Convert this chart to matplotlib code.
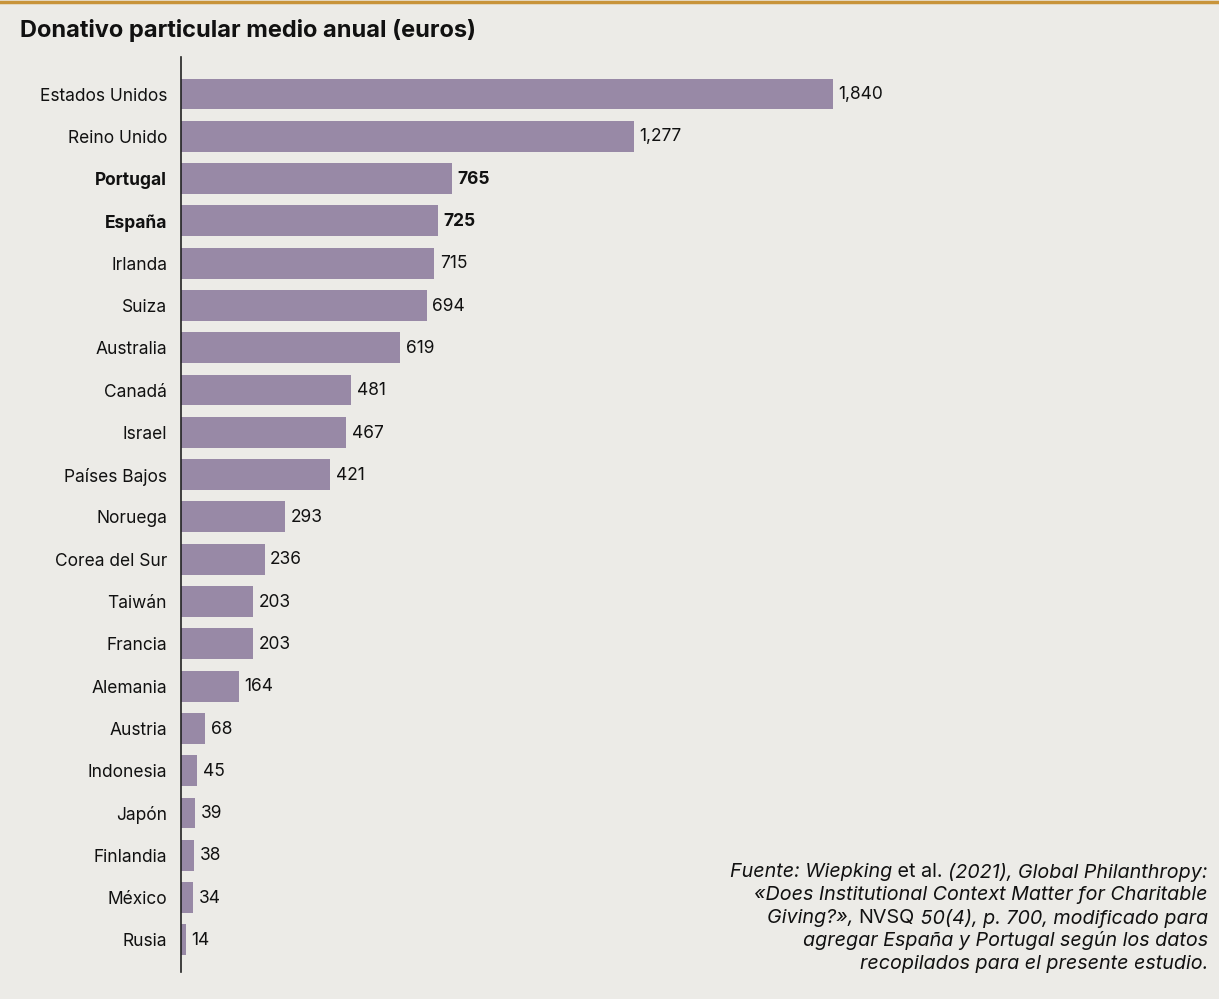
import matplotlib
matplotlib.use("Agg")
import matplotlib.pyplot as plt

# Data
countries = ["Estados Unidos", "Reino Unido", "Portugal", "España", "Irlanda", "Suiza",
             "Australia", "Canadá", "Israel", "Países Bajos", "Noruega", "Corea del Sur",
             "Taiwán", "Francia", "Alemania", "Austria", "Indonesia", "Japón",
             "Finlandia", "México", "Rusia"]
donations = [1840, 1277, 765, 725, 715, 694, 619, 481, 467, 421, 293, 236,
             203, 203, 164, 68, 45, 39, 38, 34, 14]
highlight = ["Portugal", "España"]

title = "Donativo particular medio anual (euros)"
note_lines = [
    [("Fuente: Wiepking", "italic"), (" et al. ", "normal"), ("(2021), Global Philanthropy:", "italic")],
    [("«Does Institutional Context Matter for Charitable", "italic")],
    [("Giving?», ", "italic"), ("NVSQ", "normal"), (" 50(4), p. 700, modificado para", "italic")],
    [("agregar España y Portugal según los datos", "italic")],
    [("recopilados para el presente estudio.", "italic")],
]

bg = "#ecebe7"
bar_color = "#9889a6"
plt.rcParams["font.family"] = ["Inter", "DejaVu Sans"]

fig = plt.figure(figsize=(12.19, 9.99), dpi=100, facecolor=bg)
ax = fig.add_axes([181 / 1219, 1 - 972 / 999, 1 - 181 / 1219, (972 - 57) / 999])
ax.set_facecolor(bg)

pos = list(range(len(countries)))
ax.barh(pos, donations, height=0.73, color=bar_color, zorder=2)
ax.set_ylim(20.76, -0.875)
ax.set_xlim(0, 1038 * 1840 / 652)

ax.set_yticks(pos)
ax.set_yticklabels(countries, fontsize=12.5, color="#111111")
for lbl in ax.get_yticklabels():
    if lbl.get_text() in highlight:
        lbl.set_fontweight("bold")
ax.tick_params(axis="y", length=0, pad=10)
ax.set_xticks([])
for s in ["top", "right", "bottom"]:
    ax.spines[s].set_visible(False)
ax.spines["left"].set_color("#222222")
ax.spines["left"].set_linewidth(1.2)
ax.spines["left"].set_zorder(3)

for p, c, v in zip(pos, countries, donations):
    ax.annotate(f"{v:,}", (v, p), xytext=(4, -0.5), textcoords="offset points",
                va="center", ha="left", fontsize=12.5, color="#111111",
                fontweight="bold" if c in highlight else "normal")

# top rule
fig.add_artist(plt.Line2D([0, 1], [1 - 1.5 / 999, 1 - 1.5 / 999], color="#c8943a", lw=2.5))

fig.text(20 / 1219, 1 - 30 / 999, title, fontsize=17, fontweight="bold",
         va="center", ha="left", color="#111111")

# source note: right aligned, mixed styles
fig.canvas.draw()
renderer = fig.canvas.get_renderer()
x_right = 1208
y0 = 872
for i, segs in enumerate(note_lines):
    y = 1 - (y0 + i * 23) / 999
    texts = []
    for s, st in segs:
        t = fig.text(0, y, s, fontsize=14.2, style=st, va="center", ha="left", color="#111111")
        texts.append(t)
    widths = [t.get_window_extent(renderer).width for t in texts]
    x = x_right - sum(widths)
    for t, w in zip(texts, widths):
        t.set_x(x / 1219)
        x += w

fig.savefig("out.png", dpi=100, facecolor=bg)
